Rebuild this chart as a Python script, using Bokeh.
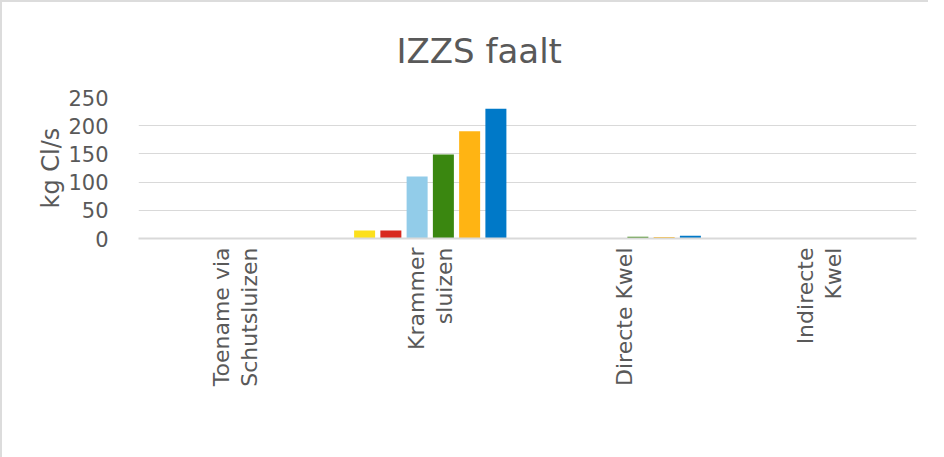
import math
from bokeh.plotting import figure
from bokeh.models import ColumnDataSource, Range1d, Legend, LegendItem, SingleIntervalTicker, FixedTicker
from bokeh.transform import dodge
from bokeh.embed import file_html
from bokeh.resources import INLINE

categories = ["Toename via\nSchutsluizen", "Krammer\nsluizen", "Directe Kwel", "Indirecte\nKwel"]
series = ["0m", "1m", "2m", "3m", "4m", "5m"]
v0m = [0, 14, 0, 0]
v1m = [0, 14, 0, 0]
v2m = [0, 110, 0, 0]
v3m = [0, 149, 3, 0]
v4m = [0, 190, 2.5, 0]
v5m = [0, 230, 5, 0]
colors = ["#FCE01C", "#D8291F", "#92CCE9", "#3A8710", "#FFB413", "#0079C8"]

idx = list(range(len(categories)))
data = {"idx": idx, "cat": categories, "0m": v0m, "1m": v1m, "2m": v2m, "3m": v3m, "4m": v4m, "5m": v5m}
src = ColumnDataSource(data)

# one tick per label line, lines placed side by side (rotated text)
LINE_GAP = 0.072
tick_pos = []
tick_text = {}
for i, c in zip(idx, categories):
    lines = c.split("\n")
    k = len(lines)
    for m, line in enumerate(lines):
        pos = i if k == 1 else round(i + (m - (k - 1) / 2) * 2 * LINE_GAP, 3)
        tick_pos.append(pos)
        tick_text[pos] = line

FONT = "DejaVu Sans"
GREY = "#595959"

p = figure(x_range=Range1d(-0.5, len(categories) - 0.5), y_range=Range1d(0, 250),
           frame_width=778, frame_height=141, output_backend="svg", toolbar_location=None,
           min_border_left=136, min_border_right=12, min_border_top=95, min_border_bottom=0)
p.styles = {"border-left": "2px solid #dcdcdc", "border-top": "2px solid #dcdcdc"}

p.title.text = "IZZS faalt"
p.title.align = "left"
p.title.offset = 258
p.title.text_font = FONT
p.title.text_font_size = "34px"
p.title.text_font_style = "normal"
p.title.text_color = GREY
p.title.standoff = 53

p.outline_line_color = None
p.xgrid.grid_line_color = None
p.ygrid.grid_line_color = "#d9d9d9"
p.yaxis.ticker = SingleIntervalTicker(interval=50)
p.yaxis.axis_line_color = None
p.yaxis.major_tick_line_color = None
p.yaxis.minor_tick_line_color = None
p.yaxis.major_label_text_font = FONT
p.yaxis.major_label_text_font_size = "21px"
p.yaxis.major_label_text_color = GREY
p.yaxis.major_label_standoff = 24
p.yaxis.axis_label = "kg Cl/s"
p.yaxis.axis_label_text_font = FONT
p.yaxis.axis_label_text_font_size = "24px"
p.yaxis.axis_label_text_font_style = "normal"
p.yaxis.axis_label_text_color = GREY
p.yaxis.axis_label_standoff = 0

p.xaxis.ticker = FixedTicker(ticks=tick_pos)
p.xaxis.major_label_overrides = tick_text
p.xaxis.axis_line_color = "#d9d9d9"
p.xaxis.axis_line_width = 2
p.xaxis.major_tick_line_color = None
p.xaxis.minor_tick_line_color = None
p.xaxis.major_label_orientation = math.pi / 2
p.xaxis.major_label_text_font = FONT
p.xaxis.major_label_text_font_size = "22px"
p.xaxis.major_label_text_color = GREY
p.xaxis.major_label_standoff = 3

items = []
n = len(series)
for j, s in enumerate(series):
    r = p.vbar(x=dodge("idx", (j - (n - 1) / 2) * 0.135), top=s, width=0.108,
               source=src, fill_color=colors[j], line_color=None)
    items.append(LegendItem(label=s, renderers=[r]))

legend = Legend(items=items, orientation="horizontal", location=(150, 0),
                label_text_font=FONT, label_text_font_size="21px", label_text_color=GREY,
                glyph_width=12, glyph_height=12, spacing=17, label_standoff=5,
                background_fill_alpha=0, border_line_color=None, padding=0, margin=0)
p.add_layout(legend, "below")

open("out.html", "w").write(file_html(p, INLINE))
